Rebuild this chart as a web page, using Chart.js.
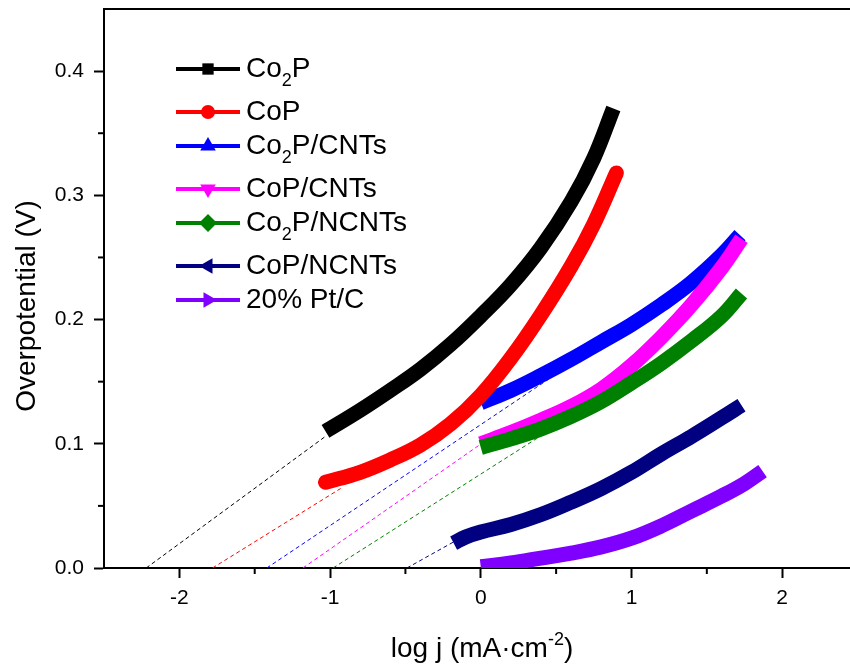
<!DOCTYPE html>
<html>
<head>
<meta charset="utf-8">
<script src="https://cdn.jsdelivr.net/npm/chart.js@4.4.1/dist/chart.umd.min.js"></script>
<style>
  html, body { margin: 0; padding: 0; background: #fff; }
</style>
</head>
<body>
<canvas id="graph" width="850" height="668"></canvas>
<script>
// --- data ---
let seriesNames = ["Co2P", "CoP", "Co2P/CNTs", "CoP/CNTs", "Co2P/NCNTs", "CoP/NCNTs", "20% Pt/C"];
let seriesColors = ["#000000", "#ff0000", "#0000ff", "#ff00ff", "#008000", "#000080", "#8000ff"];

let co2pX = [-1.03, -0.8, -0.6, -0.4, -0.2, 0, 0.2, 0.4, 0.6, 0.75, 0.88];
let co2pY = [0.110, 0.127, 0.143, 0.160, 0.180, 0.203, 0.228, 0.258, 0.295, 0.330, 0.370];

let copX = [-1.03, -0.8, -0.6, -0.4, -0.2, 0, 0.2, 0.4, 0.6, 0.75, 0.9];
let copY = [0.069, 0.077, 0.087, 0.099, 0.116, 0.139, 0.169, 0.204, 0.243, 0.277, 0.318];

let co2pCntX = [0, 0.2, 0.4, 0.6, 0.8, 1.0, 1.2, 1.4, 1.6, 1.72];
let co2pCntY = [0.133, 0.143, 0.155, 0.168, 0.182, 0.196, 0.212, 0.230, 0.252, 0.268];

let copCntX = [0, 0.2, 0.4, 0.6, 0.8, 1.0, 1.2, 1.4, 1.6, 1.73];
let copCntY = [0.100, 0.109, 0.119, 0.130, 0.144, 0.163, 0.186, 0.212, 0.242, 0.265];

let co2pNcntX = [0, 0.2, 0.4, 0.6, 0.8, 1.0, 1.2, 1.4, 1.6, 1.73];
let co2pNcntY = [0.097, 0.104, 0.112, 0.122, 0.134, 0.149, 0.165, 0.183, 0.203, 0.221];

let copNcntX = [-0.18, -0.1, 0, 0.2, 0.4, 0.6, 0.8, 1.0, 1.2, 1.4, 1.6, 1.73];
let copNcntY = [0.020, 0.025, 0.029, 0.035, 0.043, 0.053, 0.064, 0.077, 0.092, 0.106, 0.121, 0.131];

let ptcX = [0, 0.2, 0.4, 0.6, 0.8, 1.0, 1.2, 1.4, 1.6, 1.75, 1.87];
let ptcY = [0.001, 0.004, 0.008, 0.012, 0.017, 0.024, 0.034, 0.046, 0.058, 0.068, 0.078];

// dashed Tafel extrapolations: start (on x axis) and end point
let tafelStartX = [-2.22, -1.78, -1.42, -1.18, -0.98, -0.49];
let tafelEndX = [-1.03, -0.93, 0.45, 0.05, 0.42, -0.18];
let tafelEndY = [0.106, 0.064, 0.152, 0.104, 0.108, 0.021];

let xTicks = [-2, -1, 0, 1, 2];
let xMinorTicks = [-1.5, -0.5, 0.5, 1.5];
let yTicks = [0, 0.1, 0.2, 0.3, 0.4];
let yMinorTicks = [0.05, 0.15, 0.25, 0.35];

let allX = [co2pX, copX, co2pCntX, copCntX, co2pNcntX, copNcntX, ptcX];
let allY = [co2pY, copY, co2pCntY, copCntY, co2pNcntY, copNcntY, ptcY];
let drawOrder = [0, 1, 4, 3, 2, 5, 6];
let capStyles = ["butt", "round", "butt", "butt", "butt", "butt", "butt"];
let markerStyles = [
  { pointStyle: "rect", rotation: 0, radius: 8 },
  { pointStyle: "circle", rotation: 0, radius: 7 },
  { pointStyle: "triangle", rotation: 0, radius: 9 },
  { pointStyle: "triangle", rotation: 180, radius: 9 },
  { pointStyle: "rectRot", rotation: 0, radius: 9 },
  { pointStyle: "triangle", rotation: -90, radius: 9 },
  { pointStyle: "triangle", rotation: 90, radius: 9 },
];

let fontFamily = "'Liberation Sans', Arial, sans-serif";

function toPoints(xs, ys) {
  return xs.map((x, i) => ({ x: x, y: ys[i] }));
}

let datasets = [];
seriesNames.forEach((name, i) => {
  datasets.push({
    label: name,
    data: toPoints(allX[i], allY[i]),
    borderColor: seriesColors[i],
    backgroundColor: seriesColors[i],
    borderWidth: 15,
    borderCapStyle: capStyles[i],
    borderJoinStyle: "round",
    pointRadius: 0,
    tension: 0.4,
    order: drawOrder[i],
  });
});
tafelStartX.forEach((x0, i) => {
  datasets.push({
    label: "tafel" + i,
    data: [{ x: x0, y: 0 }, { x: tafelEndX[i], y: tafelEndY[i] }],
    borderColor: seriesColors[i],
    borderWidth: 1,
    borderDash: [4, 3],
    pointRadius: 0,
    order: 20,
  });
});

// minor ticks, top frame line, axis titles and the legend
let decorations = {
  id: "decorations",
  afterDraw(chart) {
    let ctx = chart.ctx;
    let area = chart.chartArea;
    let xs = chart.scales.x;
    let ys = chart.scales.y;
    ctx.save();
    ctx.strokeStyle = "#000";
    ctx.lineWidth = 2;
    // top frame
    ctx.beginPath();
    ctx.moveTo(area.left - 1, area.top);
    ctx.lineTo(area.right, area.top);
    ctx.stroke();
    // minor ticks
    xMinorTicks.forEach((v) => {
      let px = xs.getPixelForValue(v);
      ctx.beginPath();
      ctx.moveTo(px, area.bottom);
      ctx.lineTo(px, area.bottom + 6);
      ctx.stroke();
    });
    yMinorTicks.forEach((v) => {
      let py = ys.getPixelForValue(v);
      ctx.beginPath();
      ctx.moveTo(area.left, py);
      ctx.lineTo(area.left - 6, py);
      ctx.stroke();
    });

    let big = "28px " + fontFamily;
    let small = "18px " + fontFamily;
    ctx.fillStyle = "#000";

    // y title
    ctx.save();
    ctx.translate(27, 306);
    ctx.rotate(-Math.PI / 2);
    ctx.font = big;
    ctx.textAlign = "center";
    ctx.textBaseline = "middle";
    ctx.fillText("Overpotential (V)", 0, 0);
    ctx.restore();

    // x title with superscript
    let partA = "log j (mA\u00b7cm";
    let partB = "-2";
    let partC = ")";
    ctx.font = big;
    let wA = ctx.measureText(partA).width;
    let wC = ctx.measureText(partC).width;
    ctx.font = small;
    let wB = ctx.measureText(partB).width;
    let startX = 482 - (wA + wB + wC) / 2;
    let baseY = 657;
    ctx.textAlign = "left";
    ctx.textBaseline = "alphabetic";
    ctx.font = big;
    ctx.fillText(partA, startX, baseY);
    ctx.font = small;
    ctx.fillText(partB, startX + wA, baseY - 12);
    ctx.font = big;
    ctx.fillText(partC, startX + wA + wB, baseY);

    // legend
    let rowY = 69;
    seriesNames.forEach((name, i) => {
      let color = seriesColors[i];
      ctx.strokeStyle = color;
      ctx.fillStyle = color;
      ctx.lineWidth = 4;
      ctx.beginPath();
      ctx.moveTo(176, rowY);
      ctx.lineTo(240, rowY);
      ctx.stroke();
      Chart.helpers.drawPoint(ctx, Object.assign({ borderWidth: 0 }, markerStyles[i]), 208, rowY);

      ctx.fillStyle = "#000";
      ctx.textBaseline = "middle";
      let tx = 246;
      let hasSub = name.indexOf("Co2P") === 0;
      if (hasSub) {
        ctx.font = big;
        ctx.fillText("Co", tx, rowY);
        tx += ctx.measureText("Co").width;
        ctx.font = small;
        ctx.fillText("2", tx, rowY + 12);
        tx += ctx.measureText("2").width;
        ctx.font = big;
        ctx.fillText(name.slice(3), tx, rowY);
      } else {
        ctx.font = big;
        ctx.fillText(name, tx, rowY);
      }
      rowY += hasSub ? 43 : 34;
    });
    ctx.restore();
  },
};

let graph = document.getElementById("graph");
let myChart = new Chart(graph, {
  type: "line",
  data: { datasets: datasets },
  plugins: [decorations],
  options: {
    responsive: false,
    animation: false,
    layout: { padding: { top: 9, right: 0, left: 0, bottom: 0 } },
    plugins: {
      legend: { display: false },
      tooltip: { enabled: false },
    },
    scales: {
      x: {
        type: "linear",
        min: -2.5,
        max: 2.45,
        afterFit(scale) {
          scale.height = 100;
          scale.paddingLeft = 0;
          scale.paddingRight = 0;
        },
        afterBuildTicks(scale) { scale.ticks = xTicks.map((v) => ({ value: v })); },
        grid: { drawOnChartArea: false, tickLength: 10, tickWidth: 2, tickColor: "#000" },
        border: { color: "#000", width: 2 },
        ticks: {
          color: "#000",
          padding: 8,
          maxRotation: 0,
          font: { size: 21, family: fontFamily },
          callback: (v) => String(v),
        },
      },
      y: {
        type: "linear",
        min: 0,
        max: 0.45,
        afterFit(scale) {
          scale.width = 104;
          scale.paddingTop = 0;
          scale.paddingBottom = 0;
        },
        afterBuildTicks(scale) { scale.ticks = yTicks.map((v) => ({ value: v })); },
        grid: { drawOnChartArea: false, tickLength: 10, tickWidth: 2, tickColor: "#000" },
        border: { color: "#000", width: 2 },
        ticks: {
          color: "#000",
          padding: 10,
          font: { size: 21, family: fontFamily },
          callback: (v) => v.toFixed(1),
        },
      },
    },
  },
});
</script>
</body>
</html>
